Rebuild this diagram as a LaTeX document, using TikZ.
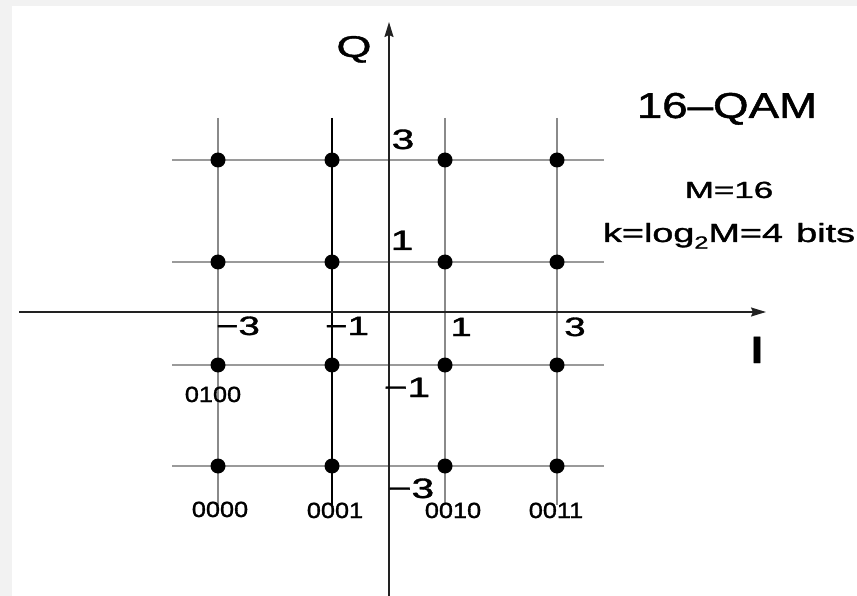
\documentclass[tikz,border=0pt]{standalone}
\usepackage{fontspec}
\setmainfont{Liberation Sans}
\newfontfamily\medfont{Liberation Sans}[FakeBold=1.2]
\usepackage{graphicx}
\usetikzlibrary{arrows.meta}
\definecolor{bggray}{HTML}{F2F2F2}
\definecolor{gridgray}{HTML}{8A8A8A}
\definecolor{hgridgray}{HTML}{9A9A9A}
\definecolor{axiscol}{HTML}{222222}
\newcommand\stx[2]{\scalebox{#1}[1]{#2}}
\begin{document}
\begin{tikzpicture}[x=1pt,y=-1pt,
  gridline/.style={draw=gridgray, line width=1.5pt},
  hgridline/.style={draw=hgridgray, line width=1.6pt},
  darkgrid/.style={draw=black, line width=1.5pt},
  axisline/.style={draw=axiscol, line width=1.5pt, -{Stealth[length=15pt,width=9pt,inset=2pt]}},
  dot/.style={circle, fill=black, inner sep=0pt, minimum size=15pt},
  lbl/.style={inner sep=0pt, anchor=base, text=black},
  tickh/.style={lbl, font=\medfont\fontsize{26.5}{30}\selectfont},
  tickv/.style={lbl, font=\medfont\fontsize{28}{32}\selectfont},
  bits/.style={lbl, font=\medfont\fontsize{22}{26}\selectfont},
  axlbl/.style={lbl, font=\medfont\fontsize{30}{34}\selectfont},
  title/.style={lbl, font=\medfont\fontsize{36}{40}\selectfont},
  info/.style={lbl, font=\medfont\fontsize{23.3}{27}\selectfont}
]
% background and frame
\fill[bggray] (0,0) rectangle (857,596);
\fill[white] (12,6) rectangle (857,596);
\useasboundingbox (0,0) rectangle (857,596);

% grid coordinates
\foreach \x/\n in {218/A,332/B,445/C,557/D}{
  \coordinate (vt\n) at (\x,118);
  \coordinate (vb\n) at (\x,505);
}
\foreach \y/\n in {160/1,262/2,365/3,466/4}{
  \coordinate (hl\n) at (172,\y);
  \coordinate (hr\n) at (604,\y);
}
% vertical grid lines
\draw[gridline] (vtA) -- (vbA);
\draw[darkgrid] (vtB) -- (vbB);
\draw[gridline] (vtC) -- (vbC);
\draw[gridline] (vtD) -- (vbD);
% horizontal grid lines
\foreach \n in {1,2,3,4}{\draw[hgridline] (hl\n) -- (hr\n);}

% axes
\coordinate (xs) at (19,312);
\coordinate (xe) at (766,312);
\coordinate (ys) at (389,596);
\coordinate (ye) at (389,22);
\draw[axisline] (xs) -- (xe);
\draw[axisline] (ys) -- (ye);

% constellation points
\foreach \x/\i in {218/A,332/B,445/C,557/D}{
  \foreach \y/\j in {160/1,262/2,365/3,466/4}{
    \node[dot] (p\i\j) at (\x,\y) {};
  }
}

% axis labels
\node[axlbl] (Qlbl) at (354,57) {\stx{1.5}{Q}};
\node[lbl, font=\medfont\fontsize{38}{42}\selectfont] (Ilbl) at (757,363) {\stx{1.7}{I}};

% horizontal ticks
\node[tickh] (hm3) at (238,335) {\stx{1.45}{−3}};
\node[tickh] (hm1) at (347,335) {\stx{1.45}{−1}};
\node[tickh] (hp1) at (461,336) {\stx{1.45}{1}};
\node[tickh] (hp3) at (575,336) {\stx{1.45}{3}};

% vertical ticks
\node[tickv] (vp3) at (403,149) {\stx{1.45}{3}};
\node[tickv] (vp1) at (402,250) {\stx{1.45}{1}};
\node[tickv] (vm1) at (407,397) {\stx{1.45}{−1}};
\node[tickv] (vm3) at (411,498) {\stx{1.45}{−3}};

% bit labels
\node[bits] (b0100) at (213,402) {\stx{1.15}{0100}};
\node[bits] (b0000) at (220,517) {\stx{1.15}{0000}};
\node[bits] (b0001) at (335,518) {\stx{1.15}{0001}};
\node[bits] (b0010) at (453,518) {\stx{1.15}{0010}};
\node[bits] (b0011) at (556,518) {\stx{1.15}{0011}};

% title and info
\node[title] (ttl) at (727,118) {\stx{1.27}{16–QAM}};
\node[info] (mline) at (729,198) {\stx{1.5}{M=16}};
\node[lbl, font=\medfont\fontsize{24}{28}\selectfont] (kline) at (729,242)
  {\resizebox{252pt}{19pt}{k=log\raisebox{-6pt}{\fontsize{16}{18}\selectfont 2}M=4\hspace{0.35em}bits}};
\end{tikzpicture}
\end{document}
